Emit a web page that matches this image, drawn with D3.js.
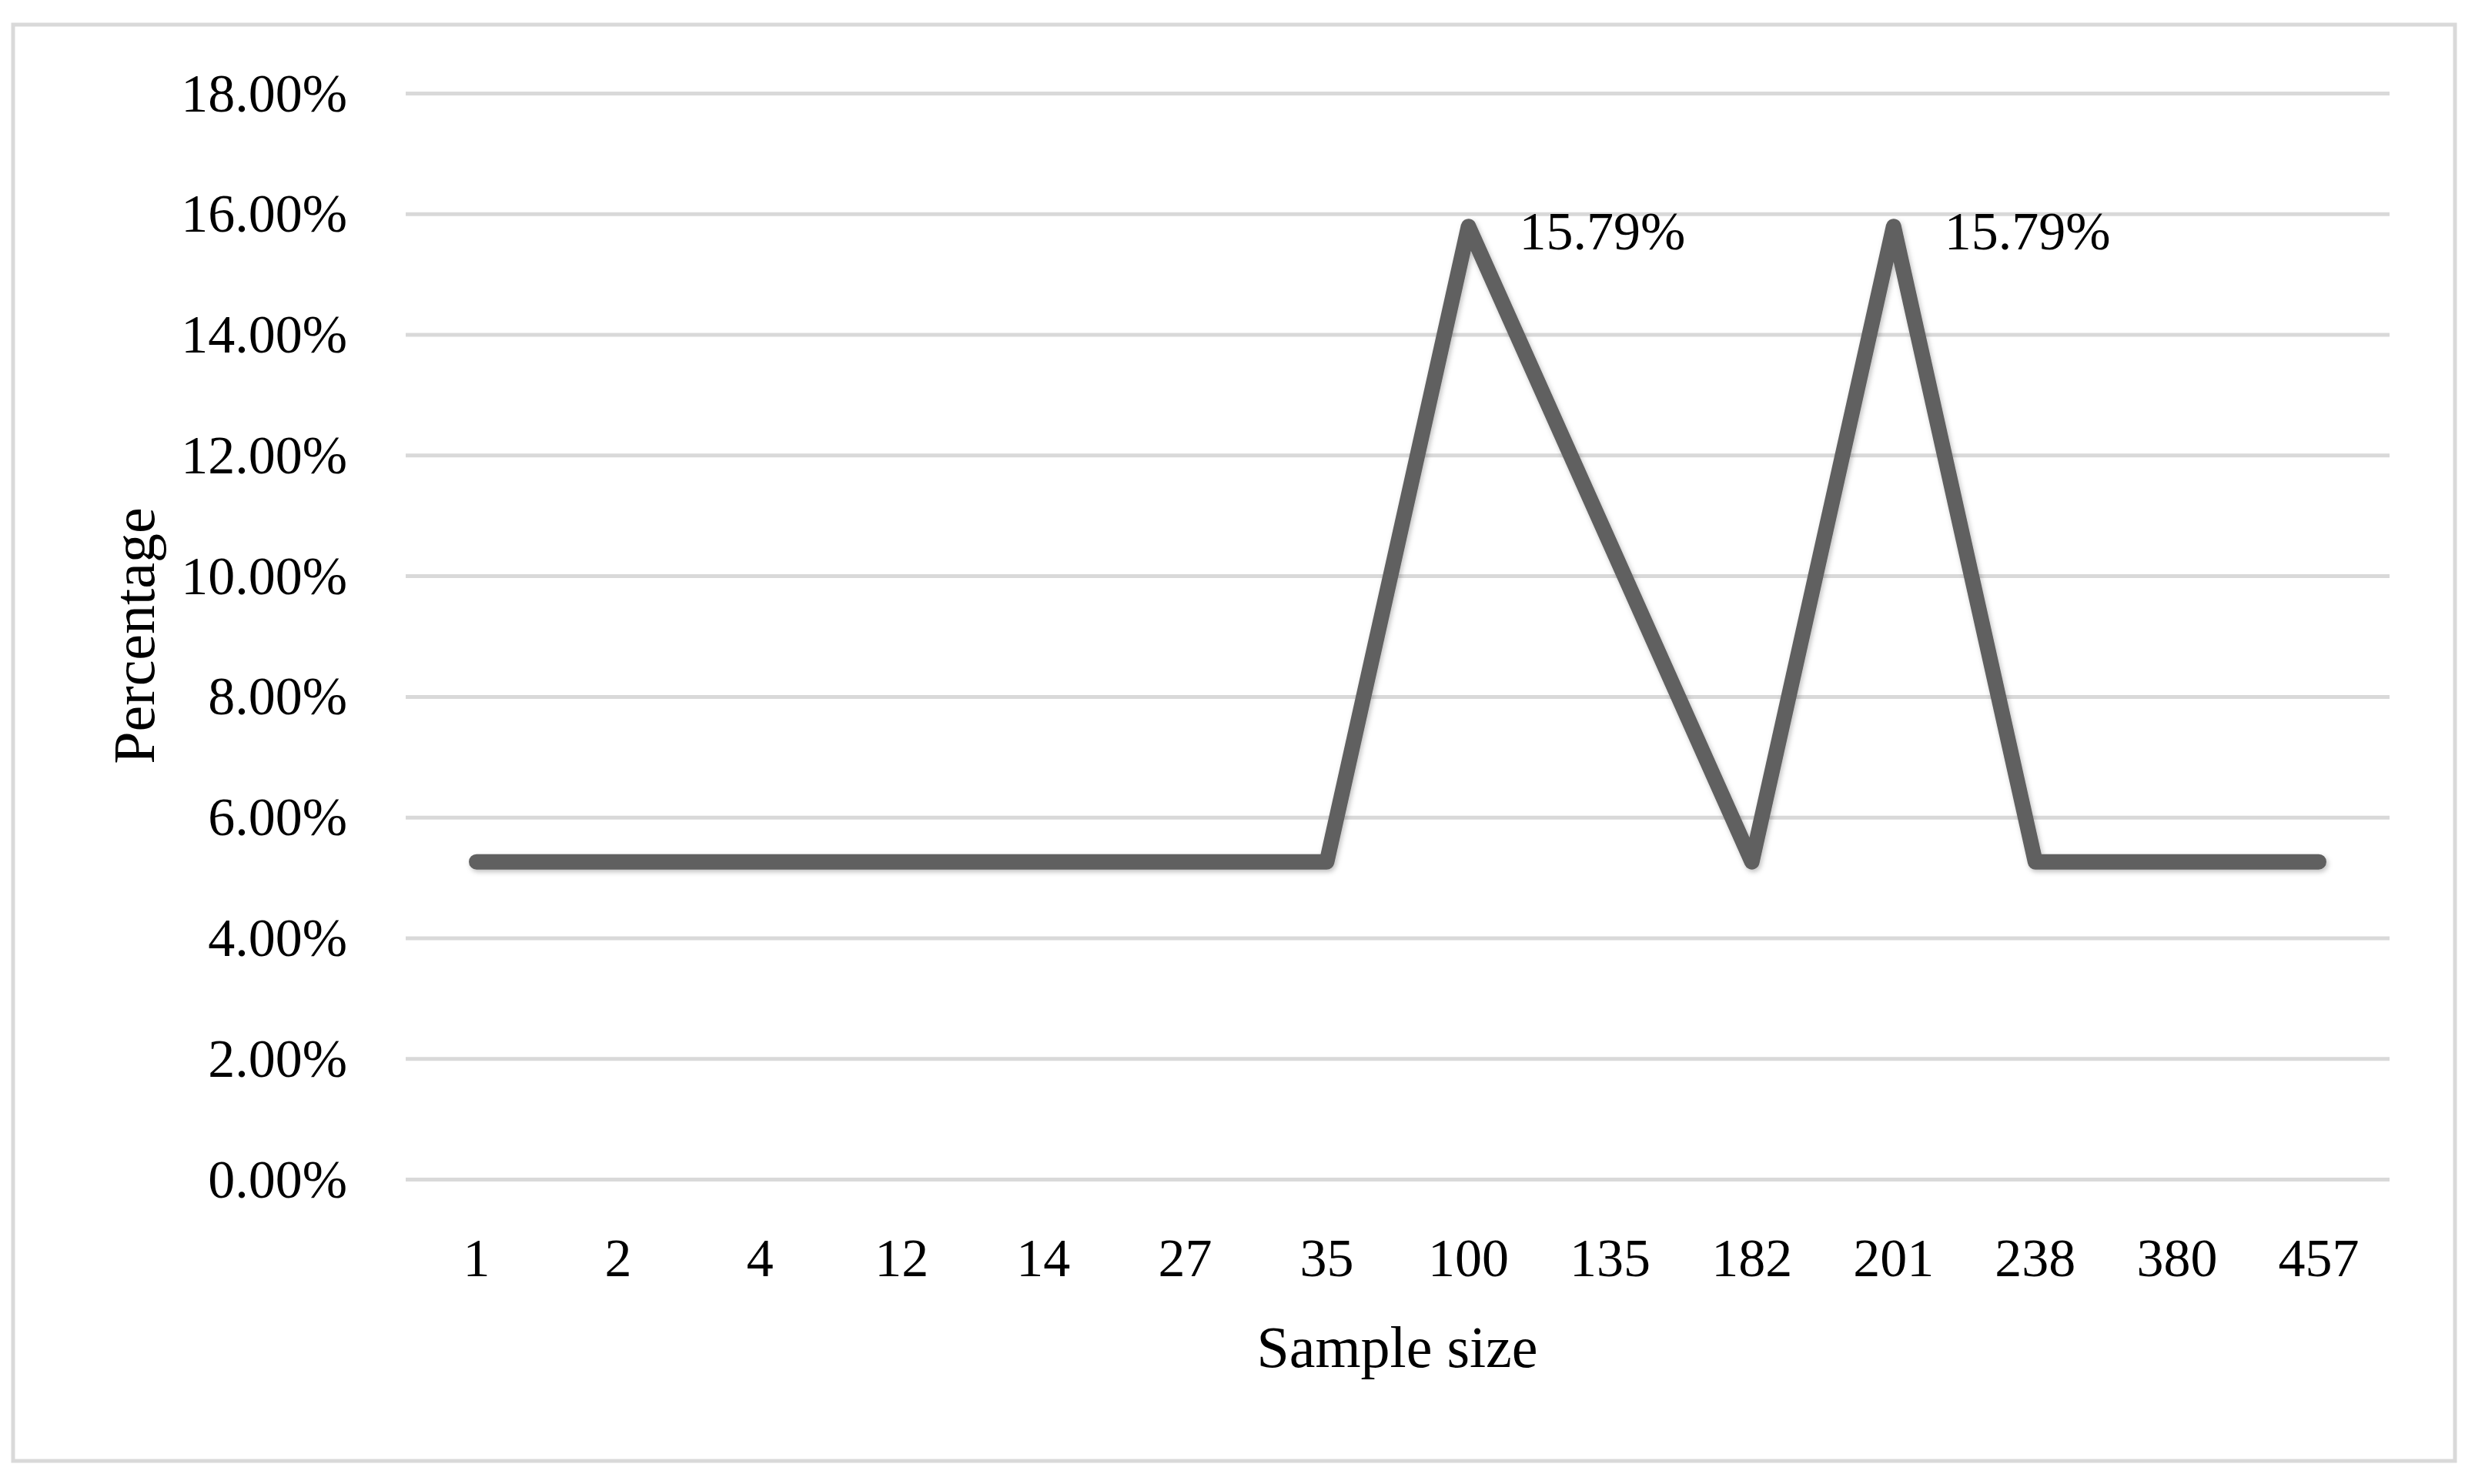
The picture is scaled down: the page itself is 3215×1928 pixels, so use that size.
<!DOCTYPE html>
<meta charset="utf-8">
<html>
  <head>
    <script src="https://cdnjs.cloudflare.com/ajax/libs/d3/7.8.5/d3.min.js"></script>
    <style>
      body { margin: 0; background: white; }
      text { font-family: "Liberation Serif", "DejaVu Serif", serif; fill: #000; }
    </style>
  </head>
  <body>
    <div id="chart"></div>
    <script>
      // chart data
      const sampleSizes = ["1", "2", "4", "12", "14", "27", "35", "100", "135", "182", "201", "238", "380", "457"];
      const percentages = [5.26, 5.26, 5.26, 5.26, 5.26, 5.26, 5.26, 15.79, 10.53, 5.26, 15.79, 5.26, 5.26, 5.26];
      const labelled = ["100", "201"];
      const yTicks = [0, 2, 4, 6, 8, 10, 12, 14, 16, 18];

      const width = 3215, height = 1928;
      const margin = {top: 121, right: 111, bottom: 396, left: 527};
      const fontSize = 68;

      const svg = d3.select("#chart").append("svg")
        .attr("width", width)
        .attr("height", height);

      // outer frame
      svg.append("rect")
        .attr("x", 17).attr("y", 32)
        .attr("width", 3172).attr("height", 1866)
        .attr("fill", "white")
        .attr("stroke", "#d9d9d9")
        .attr("stroke-width", 5);

      const x = d3.scaleBand()
        .domain(sampleSizes)
        .range([margin.left, width - margin.right]);

      const y = d3.scaleLinear()
        .domain([0, 18])
        .range([height - margin.bottom, margin.top]);

      // gridlines + y labels
      const yAxis = svg.append("g")
        .attr("transform", `translate(${margin.left},0)`)
        .call(d3.axisLeft(y)
          .tickValues(yTicks)
          .tickSize(-(width - margin.left - margin.right))
          .tickPadding(76)
          .tickFormat(d => d.toFixed(2) + "%"));
      yAxis.select(".domain").remove();
      yAxis.selectAll(".tick line").attr("stroke", "#d9d9d9").attr("stroke-width", 5);
      yAxis.selectAll(".tick text")
        .attr("font-size", 70)
        .attr("dy", "0.33em")
        .style("font-family", "Liberation Serif");

      // x labels
      const xAxis = svg.append("g")
        .attr("transform", `translate(0,${height - margin.bottom})`)
        .call(d3.axisBottom(x).tickSize(0).tickPadding(76));
      xAxis.select(".domain").remove();
      xAxis.selectAll(".tick text")
        .attr("font-size", 70)
        .attr("dy", "0.71em")
        .style("font-family", "Liberation Serif");

      // axis titles
      svg.append("text")
        .attr("transform", `translate(200,826) rotate(-90)`)
        .attr("text-anchor", "middle")
        .attr("font-size", 76)
        .text("Percentage");

      svg.append("text")
        .attr("x", 1815).attr("y", 1776)
        .attr("text-anchor", "middle")
        .attr("font-size", 76)
        .text("Sample size");

      // soft shadow under the line
      const defs = svg.append("defs");
      const f = defs.append("filter").attr("id", "shadow")
        .attr("x", "-5%").attr("y", "-5%").attr("width", "110%").attr("height", "110%");
      f.append("feDropShadow")
        .attr("dx", 2).attr("dy", 3).attr("stdDeviation", 3)
        .attr("flood-color", "#000").attr("flood-opacity", 0.25);

      const points = sampleSizes.map((s, i) => ({s: s, v: percentages[i]}));

      const line = d3.line()
        .x(d => x(d.s) + x.bandwidth() / 2)
        .y(d => y(d.v));

      svg.append("path")
        .datum(points)
        .attr("d", line)
        .attr("fill", "none")
        .attr("stroke", "#606060")
        .attr("stroke-width", 20)
        .attr("stroke-linejoin", "round")
        .attr("stroke-linecap", "round")
        .attr("filter", "url(#shadow)");

      // data labels
      svg.selectAll(".dlabel")
        .data(points.filter(d => labelled.includes(d.s)))
        .join("text")
        .attr("class", "dlabel")
        .attr("x", d => x(d.s) + x.bandwidth() / 2 + 66)
        .attr("y", d => y(d.v) + 30)
        .attr("font-size", 70)
        .text(d => d.v.toFixed(2) + "%");
    </script>
  </body>
</html>
